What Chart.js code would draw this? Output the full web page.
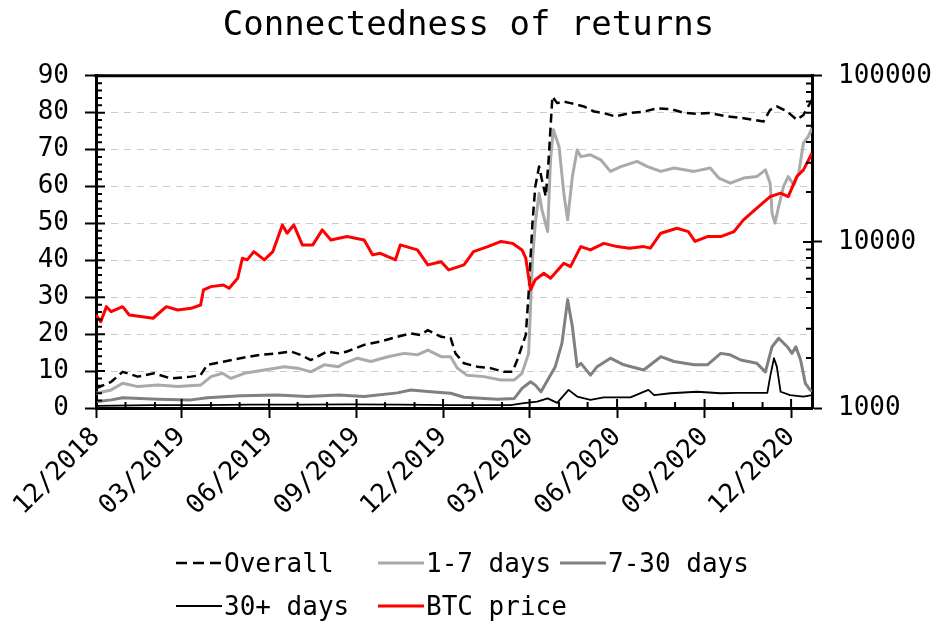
<!DOCTYPE html>
<html>
<head>
<meta charset="utf-8">
<title>Connectedness of returns</title>
<script src="https://cdn.jsdelivr.net/npm/chart.js@4.4.1/dist/chart.umd.min.js"></script>
<style>
  body { margin: 0; background: #fff; }
  #wrap { position: relative; width: 937px; height: 623px; }
  #legend { position: absolute; left: 0; top: 0; font: 26px "DejaVu Sans Mono", monospace; color: #000; }
  .item { position: absolute; display: flex; align-items: center; height: 30px; white-space: nowrap; }
  .item svg { margin-right: 2px; }
</style>
</head>
<body>
<div id="wrap">
  <canvas id="graph" width="937" height="623"></canvas>
  <div id="legend"></div>
</div>
<script>
// x values are days since 01/12/2018
const tickDays = [0, 90, 182, 274, 365, 456, 548, 640, 731];
const tickLabels = ["12/2018", "03/2019", "06/2019", "09/2019", "12/2019", "03/2020", "06/2020", "09/2020", "12/2020"];
const monthDays = [0, 31, 62, 90, 121, 151, 182, 212, 243, 274, 304, 335, 365, 396, 427, 456, 487, 517, 548, 578, 609, 640, 670, 701, 731];
const priceTicks = [1000, 10000, 100000];

const overallDays = [0, 16, 28, 44, 61, 79, 100, 110, 117, 135, 152, 173, 191, 205, 215, 226, 243, 255, 264, 282, 299, 317, 331, 341, 349, 363, 373, 378, 387, 401, 415, 429, 438, 443, 452, 455, 459, 462, 466, 469, 473, 476, 480, 485, 492, 499, 513, 524, 534, 546, 561, 576, 590, 604, 618, 632, 646, 664, 681, 702, 709, 716, 727, 737, 744, 749, 753];
const overallValues = [5.3, 7.1, 9.8, 8.5, 9.4, 8.0, 8.5, 8.9, 11.7, 12.6, 13.5, 14.4, 14.8, 15.3, 14.4, 13.0, 15.3, 14.8, 15.3, 17.1, 18.0, 19.3, 20.2, 19.8, 21.1, 19.3, 18.9, 14.8, 12.1, 11.2, 10.8, 9.8, 9.8, 13.0, 19.8, 31.1, 50.1, 60.0, 65.4, 61.8, 57.3, 67.2, 84.4, 82.6, 83.0, 82.6, 81.7, 80.3, 79.9, 79.0, 79.9, 80.3, 81.2, 81.0, 80.0, 79.7, 79.9, 79.0, 78.5, 77.6, 80.8, 81.7, 80.3, 78.1, 79.4, 81.7, 83.5];

const shortDays = [0, 16, 28, 44, 65, 86, 110, 121, 133, 142, 156, 177, 198, 212, 226, 240, 255, 261, 275, 289, 307, 324, 338, 349, 363, 373, 380, 390, 408, 426, 440, 448, 455, 459, 462, 466, 469, 475, 478, 481, 487, 492, 496, 501, 506, 510, 520, 531, 541, 552, 569, 580, 594, 608, 629, 646, 655, 667, 681, 695, 704, 709, 711, 714, 718, 723, 728, 734, 739, 744, 749, 753];
const shortValues = [4.0, 4.9, 6.7, 5.8, 6.2, 5.8, 6.2, 8.5, 9.4, 8.0, 9.4, 10.3, 11.2, 10.8, 9.8, 11.7, 11.2, 12.1, 13.5, 12.6, 13.9, 14.8, 14.4, 15.7, 13.9, 13.9, 10.8, 8.9, 8.5, 7.6, 7.6, 9.4, 14.8, 40.1, 50.1, 58.2, 53.7, 47.8, 67.2, 75.4, 70.8, 58.2, 51.0, 62.7, 69.9, 68.1, 68.6, 67.2, 64.1, 65.4, 66.8, 65.4, 64.1, 65.0, 64.1, 65.0, 62.3, 60.9, 62.3, 62.7, 64.5, 60.9, 52.8, 50.1, 54.6, 60.0, 62.7, 60.4, 63.6, 71.8, 73.5, 75.8];

const midDays = [0, 16, 28, 65, 100, 117, 152, 191, 222, 255, 282, 317, 331, 352, 373, 387, 422, 440, 448, 457, 462, 468, 475, 483, 490, 496, 501, 506, 510, 520, 527, 541, 555, 576, 594, 608, 629, 643, 657, 667, 678, 695, 704, 711, 718, 727, 732, 736, 741, 746, 751, 753];
const midValues = [1.7, 2.2, 2.8, 2.4, 2.2, 2.8, 3.3, 3.5, 3.1, 3.5, 3.1, 4.1, 4.9, 4.4, 4.0, 2.9, 2.4, 2.6, 5.3, 7.1, 6.2, 4.4, 7.6, 11.2, 17.5, 29.3, 22.0, 11.2, 12.1, 8.9, 11.2, 13.5, 11.7, 10.3, 13.9, 12.6, 11.7, 11.7, 14.8, 14.4, 13.0, 12.1, 9.8, 16.6, 18.9, 16.6, 14.8, 16.6, 13.0, 6.7, 4.9, 4.5];

const longDays = [0, 58, 110, 163, 215, 268, 320, 373, 436, 450, 464, 475, 485, 497, 506, 520, 534, 562, 581, 587, 604, 632, 657, 674, 706, 709, 713, 716, 720, 730, 744, 753];
const longValues = [0.6, 0.8, 0.8, 0.9, 0.9, 1.0, 0.9, 0.8, 0.8, 1.3, 1.7, 2.6, 1.4, 4.9, 3.1, 2.2, 2.9, 2.9, 4.9, 3.5, 4.0, 4.4, 4.0, 4.1, 4.1, 8.5, 13.5, 11.2, 4.4, 3.5, 3.1, 3.5];

const btcDays = [0, 5, 11, 16, 28, 35, 47, 60, 74, 86, 100, 110, 113, 121, 134, 140, 149, 154, 159, 166, 177, 186, 196, 201, 208, 217, 228, 238, 247, 264, 282, 291, 299, 315, 320, 338, 349, 363, 371, 387, 397, 412, 426, 438, 448, 452, 457, 462, 471, 478, 492, 499, 508, 510, 520, 534, 548, 561, 576, 583, 594, 611, 623, 630, 643, 657, 671, 681, 695, 709, 720, 728, 737, 744, 753];
const btcPrices = [3630, 3310, 4075, 3800, 4075, 3630, 3550, 3470, 4075, 3890, 3980, 4170, 5140, 5380, 5500, 5260, 6040, 7980, 7800, 8740, 7800, 8740, 12650, 11280, 12650, 9590, 9590, 11810, 10280, 10770, 10280, 8350, 8540, 7800, 9590, 8950, 7270, 7600, 6780, 7270, 8740, 9370, 10060, 9800, 8950, 7980, 5140, 5920, 6480, 6040, 7440, 7100, 8950, 9370, 8950, 9800, 9370, 9170, 9370, 9170, 11280, 12090, 11540, 10060, 10770, 10770, 11540, 13570, 15960, 18740, 19650, 18740, 24740, 27140, 34200];

const graph = document.getElementById("graph");
const ctx = graph.getContext("2d");
const legendBox = document.getElementById("legend");

Chart.defaults.font.family = "'DejaVu Sans Mono', monospace";
Chart.defaults.color = "#000";

const toPoints = (days, values) => days.map((d, i) => ({ x: d, y: values[i] }));

const datasets = [
  { label: "Overall", data: toPoints(overallDays, overallValues), borderColor: "#000000", borderWidth: 2.5, borderDash: [9, 5], yAxisID: "y", order: 1 },
  { label: "1-7 days", data: toPoints(shortDays, shortValues), borderColor: "#aaaaaa", borderWidth: 3, yAxisID: "y", order: 3 },
  { label: "7-30 days", data: toPoints(midDays, midValues), borderColor: "#808080", borderWidth: 3, yAxisID: "y", order: 4 },
  { label: "30+ days", data: toPoints(longDays, longValues), borderColor: "#000000", borderWidth: 1.8, yAxisID: "y", order: 2 },
  { label: "BTC price", data: toPoints(btcDays, btcPrices), borderColor: "#ff0000", borderWidth: 3, yAxisID: "y2", order: 0 },
];

// inward minor ticks + top frame line
const axisTicks = {
  id: "axisTicks",
  afterDraw: (chart) => {
    const { chartArea, scales } = chart;
    const c = chart.ctx;
    const { left, right, top, bottom } = chartArea;
    c.save();
    c.strokeStyle = "#000";
    c.lineWidth = 2;
    c.beginPath();
    for (let v = 0; v <= 90; v += 2) {
      const y = scales.y.getPixelForValue(v);
      c.moveTo(left, y);
      c.lineTo(left + (v % 10 === 0 ? 9 : 6), y);
    }
    [1000, 10000].forEach((d) => {
      for (let m = 1; m < 10; m++) {
        const y = scales.y2.getPixelForValue(d * m);
        c.moveTo(right, y);
        c.lineTo(right - (m === 1 ? 9 : 6), y);
      }
    });
    monthDays.forEach((d) => {
      const x = scales.x.getPixelForValue(d);
      c.moveTo(x, bottom);
      c.lineTo(x, bottom - (tickDays.includes(d) ? 9 : 6));
    });
    c.stroke();
    c.lineWidth = 3;
    c.beginPath();
    c.moveTo(left - 1.5, top);
    c.lineTo(right + 1.5, top);
    c.stroke();
    c.restore();
  },
};

const chart = new Chart(ctx, {
  type: "line",
  data: { datasets: datasets },
  plugins: [axisTicks],
  options: {
    responsive: false,
    animation: false,
    devicePixelRatio: 1,
    layout: { padding: 0 },
    elements: {
      point: { radius: 0 },
      line: { tension: 0, borderJoinStyle: "round" },
    },
    plugins: {
      legend: { display: false },
      tooltip: { enabled: false },
      title: {
        display: true,
        text: "Connectedness of returns",
        color: "#000",
        font: { size: 34, weight: "normal" },
        padding: { top: 6, bottom: 29 },
      },
    },
    scales: {
      x: {
        type: "linear",
        min: 0,
        max: 753,
        afterBuildTicks: (s) => {
          s.ticks = tickDays.map((v) => ({ value: v }));
        },
        afterFit: (s) => {
          s.height = 215;
        },
        ticks: {
          autoSkip: false,
          minRotation: 45,
          maxRotation: 45,
          padding: 4,
          font: { size: 26 },
          callback: (v, i) => tickLabels[i],
        },
        grid: { drawOnChartArea: false, tickLength: 10, tickWidth: 2, tickColor: "#000" },
        border: { color: "#000", width: 3 },
      },
      y: {
        position: "left",
        min: 0,
        max: 90,
        afterFit: (s) => {
          s.width = 96;
        },
        ticks: { stepSize: 10, padding: 16, font: { size: 26 } },
        grid: {
          color: (c) => (c.tick && (c.tick.value === 0 || c.tick.value === 90) ? "rgba(0,0,0,0)" : "#cccccc"),
          lineWidth: 1,
          tickLength: 11,
          tickWidth: 2,
          tickColor: "#000",
        },
        border: { color: "#000", width: 3, dash: [7, 6] },
      },
      y2: {
        type: "logarithmic",
        position: "right",
        min: 1000,
        max: 100000,
        afterBuildTicks: (s) => {
          s.ticks = priceTicks.map((v) => ({ value: v }));
        },
        afterFit: (s) => {
          s.width = 125;
        },
        ticks: { padding: 16, font: { size: 26 }, callback: (v) => String(v) },
        grid: { drawOnChartArea: false, tickLength: 10, tickWidth: 2, tickColor: "#000" },
        border: { color: "#000", width: 3 },
      },
    },
  },
});

// legend laid out in two rows like the original
const legendCols = [176, 378, 560];
const legendRows = [563, 606];
const legendPlace = [[0, 0], [1, 0], [2, 0], [0, 1], [1, 1]];

const displayLegend = () => {
  legendBox.innerHTML = "";
  datasets.forEach((ds, i) => {
    const [col, row] = legendPlace[i];
    const dash = ds.borderDash ? `stroke-dasharray="11,6"` : "";
    legendBox.innerHTML += `
      <div class="item" style="left:${legendCols[col]}px; top:${legendRows[row] - 15}px">
        <svg width="46" height="10"><line x1="0" y1="5" x2="46" y2="5" stroke="${ds.borderColor}" stroke-width="${ds.borderWidth}" ${dash}/></svg>
        <span>${ds.label}</span>
      </div>`;
  });
};

displayLegend();
</script>
</body>
</html>
